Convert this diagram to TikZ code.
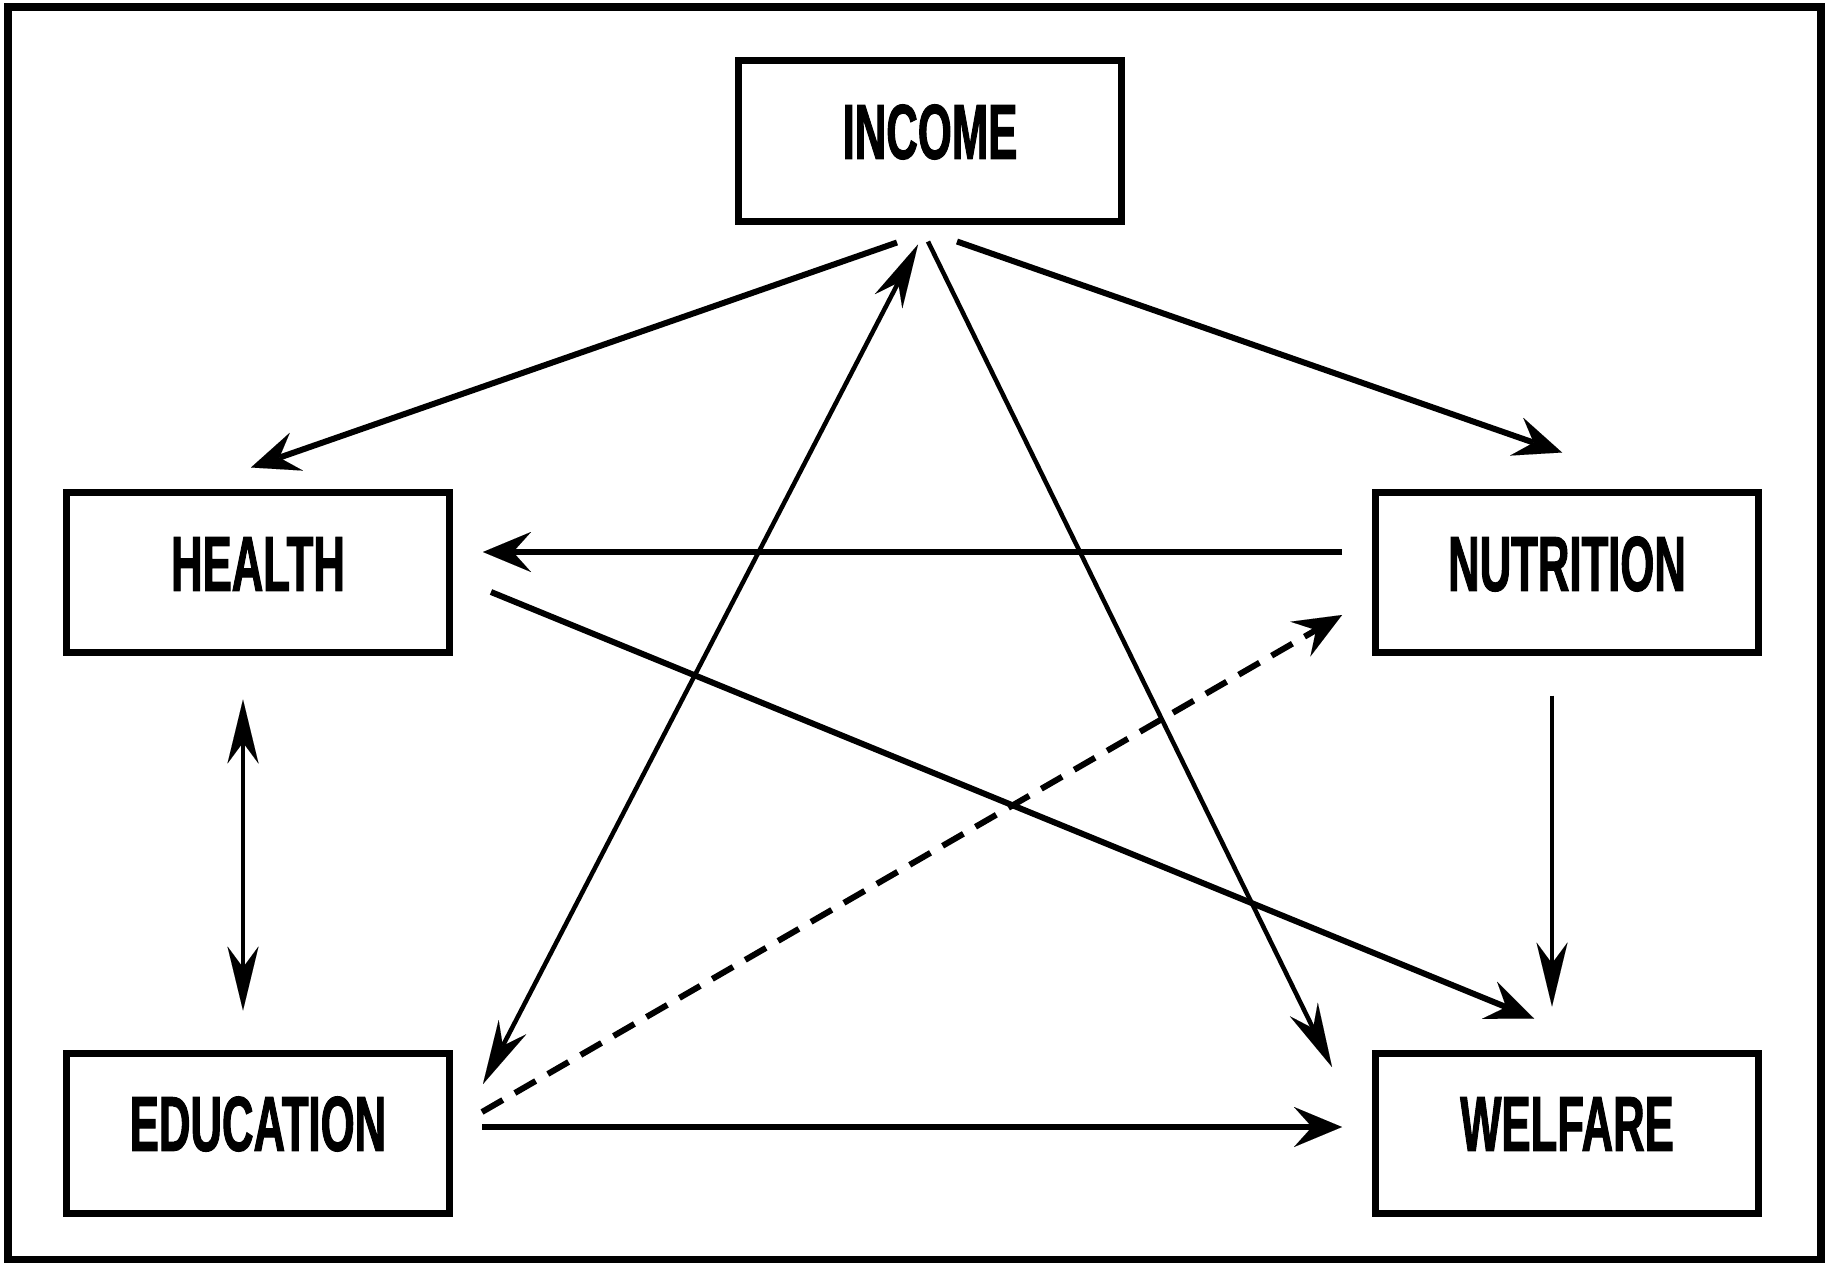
\documentclass[tikz,border=0pt]{standalone}
\usepackage{fontspec}
\newfontfamily\labfont[FakeStretch=0.56,BoldFeatures={FakeBold=1.2}]{Liberation Sans}
\usetikzlibrary{arrows.meta,calc}
\tikzset{
  box/.style={draw, line width=7pt, minimum width=383pt, minimum height=160pt, inner sep=0pt, fill=white},
  lab/.style={font=\labfont\bfseries\fontsize{78}{80}\selectfont},
  wide/.style={-{Stealth[length=48pt,width=40pt,inset=18pt,line width=0.01pt]}},
  slim/.style={-{Stealth[length=64pt,width=31pt,inset=21pt,line width=0.01pt]}},
  slimboth/.style={{Stealth[length=64pt,width=31pt,inset=21pt,line width=0.01pt]}-{Stealth[length=64pt,width=31pt,inset=21pt,line width=0.01pt]}},
  thickline/.style={line width=6pt},
  thinline/.style={line width=4.5pt},
  dashline/.style={line width=6pt, dash pattern=on 24pt off 14pt},
}
\begin{document}
\begin{tikzpicture}[x=1pt,y=-1pt]
\useasboundingbox (0,0) rectangle (1831,1263);
\draw[line width=8pt] (8,7) rectangle (1821,1260);

\node[box] (income) at (930,141) {};
\node[box] (health) at (258,572) {};
\node[box] (nutrition) at (1567,572) {};
\node[box] (education) at (258,1133) {};
\node[box] (welfare) at (1567,1133) {};

\node[lab] (tincome) at ($(income.center)+(0,-9)$) {INCOME};
\node[lab] (thealth) at ($(health.center)+(0,-8)$) {HEALTH};
\node[lab] (tnutrition) at ($(nutrition.center)+(0,-8)$) {NUTRITION};
\node[lab] (teducation) at ($(education.center)+(0,-9)$) {EDUCATION};
\node[lab] (twelfare) at ($(welfare.center)+(0,-9)$) {WELFARE};

% income -> health
\draw[thickline,wide] ($(income.south)+(-33,18)$) -- ($(health.north)+(-7,-21)$);
% income -> nutrition
\draw[thickline,wide] ($(income.south)+(27,17)$) -- ($(nutrition.north)+(-5,-36)$);
% nutrition -> health
\draw[thickline,wide] ($(nutrition.west)+(-30,-20)$) -- ($(health.east)+(30,-20)$);
% health -> welfare
\draw[thickline,wide] ($(health.east)+(38,20)$) -- ($(welfare.north)+(-33,-31)$);
% income -> welfare
\draw[thinline,slim] ($(income.south)+(-2,17)$) -- ($(welfare.west)+(-40,-66)$);
% income <-> education
\draw[thinline,slimboth] ($(income.south)+(-12,20)$) -- ($(education.east)+(30,-49)$);
% education -> nutrition (dashed)
\draw[dashline,wide] ($(education.east)+(29,-21)$) -- ($(nutrition.west)+(-30,43)$);
% nutrition -> welfare
\draw[thinline,slim] ($(nutrition.south)+(-15,40)$) -- ($(welfare.north)+(-15,-43)$);
% health <-> education
\draw[thinline,slimboth] ($(health.south)+(-15,44)$) -- ($(education.north)+(-15,-39)$);
% education -> welfare
\draw[thickline,wide] ($(education.east)+(29,-6)$) -- ($(welfare.west)+(-30,-6)$);
\end{tikzpicture}
\end{document}
